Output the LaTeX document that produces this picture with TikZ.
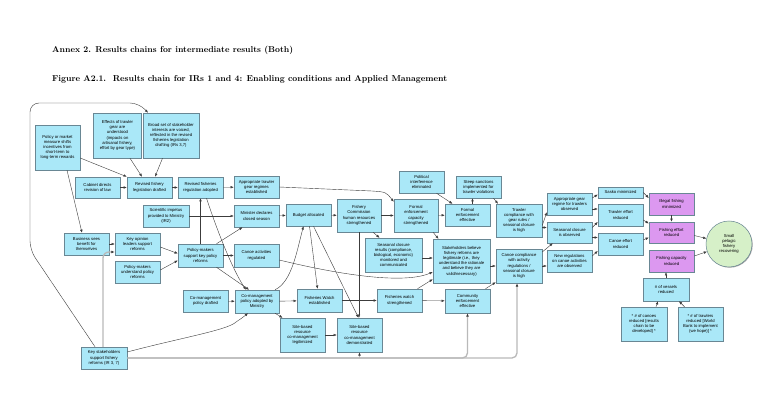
\documentclass[tikz,border=0pt]{standalone}
\usepackage{fontspec}
\newfontfamily\boxfont{Liberation Sans}
\usetikzlibrary{arrows.meta,shadows}
\definecolor{boxfill}{RGB}{170,232,248}
\definecolor{boxline}{RGB}{105,135,148}
\definecolor{violetfill}{RGB}{220,152,240}
\definecolor{greenfill}{RGB}{214,240,200}
\definecolor{arrowc}{RGB}{60,60,60}
\definecolor{grayline}{RGB}{185,185,185}
\tikzset{
  bx/.style={draw=boxline, fill=boxfill, line width=0.5pt, align=center, inner sep=0.5pt,
    font=\boxfont\fontsize{4.2}{5.2}\selectfont,
    drop shadow={shadow xshift=0.7pt, shadow yshift=-0.7pt, fill=black!60, opacity=0.6}},
  vbx/.style={bx, fill=violetfill},
  ar/.style={draw=arrowc, line width=0.4pt, -{Latex[length=3.2pt,width=2.6pt]}},
  gl/.style={draw=grayline, line width=1.3pt, -{Latex[length=3.4pt,width=2.8pt,color=arrowc]}},
  ttl/.style={anchor=west, inner sep=0pt}
}
\newcommand\mkbox[7][bx]{\node[#1, minimum width=#5pt, minimum height=#6pt] (#2) at (#3,#4) {#7};}
\begin{document}
\begin{tikzpicture}[x=1pt,y=-1pt]
\useasboundingbox (0,0) rectangle (768,403);
\fill[white] (0,0) rectangle (768,403);
% titles
\node[ttl] (t1) at (52,50) {\resizebox{241pt}{!}{\bfseries Annex 2. Results chains for intermediate results (Both)}};
\node[ttl] (t2) at (52,79) {\resizebox{395pt}{!}{\bfseries Figure A2.1.\ \ Results chain for IRs 1 and 4: Enabling conditions and Applied Management}};
% boxes
\mkbox{policy}{57.5}{147.5}{45}{45}{Policy or market\\measure shifts\\incentives from\\short-term to\\long-term rewards}
\mkbox{effects}{117.5}{135.5}{48}{45}{Effects of trawler\\gear are\\understood\\(impacts on\\artisanal fishery,\\effort by gear type)}
\mkbox{broad}{171}{135.5}{56}{45}{Broad set of stakeholder\\interests are voiced,\\reflected in the revised\\fisheries legislation\\drafting (IRs 3,7)}
\mkbox{cabinet}{97.5}{187.5}{45}{21}{Cabinet directs\\revision of law}
\mkbox{drafted}{149.5}{187.5}{45}{21}{Revised fishery\\legislation drafted}
\mkbox{adopted}{200.5}{187.5}{45}{21}{Revised fisheries\\regulation adopted}
\mkbox{apptrawler}{256.5}{187}{45}{22}{Appropriate trawler\\gear regimes\\established}
\mkbox{scientific}{166}{216}{46}{22}{Scientific impetus\\provided to Ministry\\(IR2)}
\mkbox{minister}{256.5}{216}{45}{22}{Minister declares\\closed season}
\mkbox{budget}{308.5}{215}{45}{22}{Budget allocated}
\mkbox{commission}{359}{215.5}{44}{33}{Fishery\\Commission\\human resources\\strengthened}
\mkbox{formalcap}{416}{215.5}{44}{33}{Formal\\enforcement\\capacity\\strengthened}
\mkbox{political}{421.5}{182}{45}{22}{Political\\interference\\eliminated}
\mkbox{formaleff}{467.5}{215}{45}{22}{Formal\\enforcement\\effective}
\mkbox{steep}{478.5}{187}{45}{22}{Steep sanctions\\implemented for\\trawler violations}
\mkbox{trawlercomp}{519}{220.5}{46}{33}{Trawler\\compliance with\\gear rules /\\seasonal closure\\is high}
\mkbox{business}{86.5}{244}{45}{22}{Business sees\\benefit for\\themselves}
\mkbox{keyopinion}{137.5}{244}{45}{22}{Key opinion\\leaders support\\reforms}
\mkbox{pmunderstand}{137.5}{272}{45}{22}{Policy-makers\\understand policy\\reforms}
\mkbox{pmsupport}{200.5}{255.5}{45}{23}{Policy-makers\\support key policy\\reforms}
\mkbox{canoeact}{256.5}{255.5}{45}{23}{Canoe activities\\regulated}
\mkbox{seasonalres}{393.5}{255}{57}{34}{Seasonal closure\\results (compliance,\\biological, economic)\\monitored and\\communicated}
\mkbox{stakeholders}{461.5}{261}{57}{44}{Stakeholders believe\\fishery reforms are\\legitimate (i.e., they\\understand the rationale\\and believe they are\\valid/necessary)}
\mkbox{canoecomp}{519}{266}{46}{34}{Canoe compliance\\with activity\\regulations /\\seasonal closure\\is high}
\mkbox{comdrafted}{205.5}{301}{45}{22}{Co-management\\policy drafted}
\mkbox{comadopted}{257}{301.5}{44}{23}{Co-management\\policy adopted by\\Ministry}
\mkbox{watchest}{319.5}{300.5}{45}{23}{Fisheries Watch\\established}
\mkbox{watchstr}{399.5}{300.5}{45}{23}{Fisheries watch\\strengthened}
\mkbox{commenf}{467.5}{301}{45}{24}{Community\\enforcement\\effective}
\mkbox{sitelegit}{302.5}{335}{45}{34}{Site-based\\resource\\co-management\\legitimized}
\mkbox{sitedemo}{359.5}{335}{45}{34}{Site-based\\resource\\co-management\\demonstrated}
\mkbox{keystake}{104}{358}{46}{22}{Key stakeholders\\support fishery\\reforms (IR 3, 7)}
\mkbox{apgear}{569.5}{204}{45}{22}{Appropriate gear\\regime for trawlers\\observed}
\mkbox{scobs}{569.5}{232.5}{45}{21}{Seasonal closure\\is observed}
\mkbox{newregs}{569.5}{261}{45}{22}{New regulations\\on canoe activities\\are observed}
\mkbox{sasko}{620.5}{192.5}{45}{11}{Sasko minimized}
\mkbox{trawleff}{620.5}{215}{45}{22}{Trawler effort\\reduced}
\mkbox{canoeeff}{620.5}{244}{45}{22}{Canoe effort\\reduced}
\mkbox[vbx]{illegal}{671.5}{204}{45}{22}{Illegal fishing\\minimized}
\mkbox[vbx]{fisheff}{671.5}{232.5}{45}{21}{Fishing effort\\reduced}
\mkbox[vbx]{fishcap}{671.5}{261}{45}{22}{Fishing capacity\\reduced}
\node[bx, circle, fill=greenfill, minimum size=46pt, inner sep=0pt] (pelagic) at (729,244) {Small\\pelagic\\fishery\\recovering};
\mkbox{vessels}{666}{289.5}{46}{23}{\# of vessels\\reduced}
\mkbox{canoes}{644}{324}{46}{34}{* \# of canoes\\reduced [results\\chain to be\\developed] *}
\mkbox{trawlers}{700.5}{324}{45}{34}{* \# of trawlers\\reduced [World\\Bank to implement\\(we hope)] *}
% gray connectors from key stakeholders
\draw[gl, rounded corners=6pt] ([xshift=-1pt]keystake.north) |- ([yshift=-8pt]keyopinion.west);
\draw[gl, rounded corners=5pt] (keystake.east) -| ([xshift=-2pt]canoecomp.south);
\draw[gl, rounded corners=5pt] (keystake.east) -| (commenf.south);
\draw[gl] (sitedemo.south |- keystake.east) -- (sitedemo.south);
% connectors
\draw[ar, rounded corners=9pt] ([xshift=-9pt]keystake.north) -- (30,250) -- (30,103) -- (139,103) -- ([xshift=-23pt]broad.north);
\draw[ar] (keystake.east) ++(0,-6) .. controls (180,338) and (228,330) .. (236,322) .. controls (242,318) .. ([xshift=-9pt]comadopted.south);
\draw[ar] (cabinet) -- (drafted);
\draw[ar] ([yshift=-10.5pt]policy.east) -- (drafted.north west);
\draw[ar] ([xshift=12.5pt]effects.south) -- ([xshift=-7.5pt]drafted.north);
\draw[ar] ([xshift=-8.5pt]broad.south) -- ([xshift=5.5pt]drafted.north);
\draw[ar] (drafted) -- (adopted);
\draw[ar] (adopted) -- (apptrawler);
\draw[ar] (apptrawler.east) -- (372,191) .. controls (386,192) .. ([yshift=-3pt]formalcap.north west);
\draw[ar] ([xshift=9.5pt]policy.south) -- ([xshift=-4.5pt]business.north);
\draw[ar] (business) -- (keyopinion);
\draw[ar] ([yshift=-3pt]keyopinion.east) -- ([yshift=2pt]pmsupport.west);
\draw[ar] ([yshift=2pt]pmunderstand.east) -- ([yshift=-5pt]pmsupport.west);
\draw[ar] (pmsupport.north) -- (adopted.south);
\draw[ar] ([xshift=16pt]pmsupport.north) -- ([xshift=-14pt]minister.south);
\draw[ar] (pmsupport) -- (canoeact);
\draw[ar] ([xshift=16pt]pmsupport.south) -- ([xshift=-8pt]comadopted.north);
\draw[ar] ([xshift=6pt]adopted.south) .. controls (222,245) and (236,275) .. ([xshift=-11pt]comadopted.north);
\draw[ar] (scientific) -- (minister);
\draw[ar] (minister) -- (budget);
\draw[ar] (budget) -- (commission);
\draw[ar] (commission) -- (formalcap);
\draw[ar] (formalcap) -- (formaleff);
\draw[ar] ([xshift=15pt]political.south) -- ([xshift=-15pt]formaleff.north);
\draw[ar] ([xshift=5pt]formaleff.north) -- ([xshift=-6pt]steep.south);
\draw[ar] ([xshift=15pt]steep.south) -- ([xshift=-21pt]trawlercomp.north);
\draw[ar] ([xshift=17pt]formalcap.south) -- ([xshift=-23pt]stakeholders.north);
\draw[ar] ([xshift=14pt]commission.south) -- ([xshift=-14pt]seasonalres.north);
\draw[ar] ([yshift=-3pt]seasonalres.east) -- ([yshift=-3pt]stakeholders.west |- seasonalres.east);
\draw[ar] ([yshift=-4.5pt]canoeact.east) .. controls (345,276) and (405,284) .. ([yshift=-11pt]stakeholders.west);
\draw[ar] ([xshift=18pt]watchstr.north) -- ([yshift=4pt]stakeholders.south west);
\draw[ar] (watchstr) -- (commenf);
\draw[ar] ([xshift=18pt]commenf.north) -- ([yshift=1pt]canoecomp.south west);
\draw[ar] (stakeholders.east |- canoecomp.west) -- (canoecomp.west);
\draw[ar] (comdrafted) -- (comadopted);
\draw[ar] (comadopted) -- (watchest);
\draw[ar] (watchest) -- (watchstr);
\draw[ar] ([xshift=18pt]comadopted.south) -- ([xshift=-20pt]sitelegit.north);
\draw[ar] (sitelegit) -- (sitedemo);
\draw[ar] ([xshift=18pt]comadopted.north) .. controls (292,282) and (297,250) .. ([xshift=-5pt]budget.south);
\draw[ar] ([xshift=1pt]budget.south) -- ([xshift=-2pt]watchest.north);
\draw[ar] ([xshift=5pt]budget.south) -- ([xshift=-1pt]sitedemo.north);
\draw[ar] (commission.south) -- (commission.south |- sitedemo.north);
\draw[ar] ([yshift=-5pt]trawlercomp.east) -- ([yshift=3pt]apgear.south west);
\draw[ar] ([yshift=-7pt]trawlercomp.east) -- ([yshift=-7pt]scobs.west |- trawlercomp.east);
\draw[ar] ([yshift=14pt]canoecomp.east) -- ([xshift=6pt]scobs.south west);
\draw[ar] (canoecomp.east) -- (newregs.west |- canoecomp.east);
\draw[ar] ([yshift=6pt]apgear.east) -- ([yshift=-2pt]sasko.west);
\draw[ar] ([yshift=-5pt]apgear.east) -- ([yshift=-5pt]trawleff.west |- apgear.east);
\draw[ar] ([yshift=5pt]scobs.east) -- ([yshift=-7pt]trawleff.west);
\draw[ar] ([yshift=-5pt]scobs.east) -- ([yshift=-5pt]canoeeff.west |- scobs.east);
\draw[ar] ([yshift=5pt]newregs.east) -- ([yshift=-7pt]canoeeff.west);
\draw[ar] (sasko.east) -- ([yshift=6pt]illegal.west);
\draw[ar] ([yshift=-5pt]trawleff.east) -- ([yshift=9pt]fisheff.west);
\draw[ar] ([yshift=4pt]canoeeff.east) -- ([yshift=-5pt]fisheff.west);
\draw[ar] (illegal.south) -- (fisheff.north);
\draw[ar] ([yshift=-3pt]fisheff.east) -- (pelagic);
\draw[ar] ([yshift=5pt]fishcap.east) -- (pelagic);
\draw[ar] (vessels.north) -- (vessels.north |- fishcap.south);
\draw[ar] ([xshift=12pt]canoes.north) -- ([xshift=-8pt]vessels.south);
\draw[ar] ([xshift=-16pt]trawlers.north) -- ([xshift=13pt]vessels.south);
\end{tikzpicture}
\end{document}
